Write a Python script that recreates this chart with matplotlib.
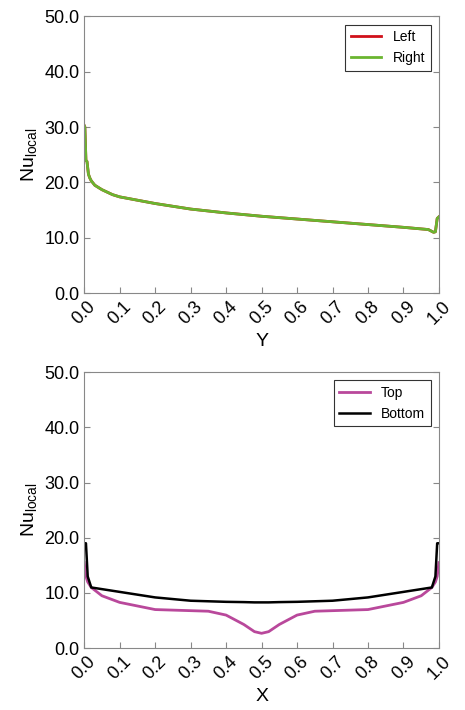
import matplotlib.pyplot as plt

plt.rcParams['font.family'] = ['Liberation Sans', 'DejaVu Sans']
plt.rcParams['mathtext.fontset'] = 'custom'
plt.rcParams['mathtext.rm'] = 'Liberation Sans'

# Top panel: left / right walls
y_pos = [0.0, 0.002, 0.005, 0.008, 0.012, 0.016, 0.02, 0.03, 0.05, 0.08, 0.1, 0.2, 0.3, 0.4, 0.5,
         0.6, 0.7, 0.8, 0.9, 0.97, 0.985, 0.99, 0.995, 1.0]
nu_left = [30.3, 30.0, 24.0, 23.8, 21.5, 20.8, 20.3, 19.5, 18.7, 17.8, 17.4, 16.2, 15.2, 14.5, 13.9,
           13.4, 12.9, 12.4, 11.9, 11.5, 11.0, 11.1, 13.5, 13.8]
nu_right = nu_left

# Bottom panel: top / bottom walls
x_pos = [0.0, 0.005, 0.01, 0.02, 0.05, 0.1, 0.2, 0.3, 0.35, 0.4, 0.45, 0.48, 0.5,
         0.52, 0.55, 0.6, 0.65, 0.7, 0.8, 0.9, 0.95, 0.98, 0.99, 0.995, 1.0]
nu_top = [15.5, 13.0, 12.0, 11.0, 9.5, 8.3, 7.0, 6.8, 6.7, 6.0, 4.3, 3.0, 2.7,
          3.0, 4.3, 6.0, 6.7, 6.8, 7.0, 8.3, 9.5, 11.0, 12.0, 13.0, 15.5]
nu_bottom = [19.0, 19.0, 13.0, 11.0, 10.7, 10.2, 9.2, 8.6, 8.5, 8.4, 8.35, 8.3, 8.3,
             8.3, 8.35, 8.4, 8.5, 8.6, 9.2, 10.2, 10.7, 11.0, 13.0, 19.0, 19.0]

ticks_x = [i / 10 for i in range(11)]
ticks_y = [0, 10, 20, 30, 40, 50]

fig = plt.figure(figsize=(4.65, 7.1), dpi=100)
ax1 = fig.add_axes([0.181, 0.587, 0.763, 0.39])
ax2 = fig.add_axes([0.181, 0.087, 0.763, 0.389])

ax1.plot(y_pos, nu_left, color='#d0101a', lw=2, label='Left')
ax1.plot(y_pos, nu_right, color='#6ab530', lw=2, label='Right')
ax2.plot(x_pos, nu_top, color='#b9489b', lw=2, label='Top')
ax2.plot(x_pos, nu_bottom, color='black', lw=1.8, label='Bottom')

for ax, xl in [(ax1, 'Y'), (ax2, 'X')]:
    ax.set_xlim(0, 1)
    ax.set_ylim(0, 50)
    ax.set_xticks(ticks_x)
    ax.set_xticklabels([f'{t:.1f}' for t in ticks_x], rotation=45, fontsize=13)
    ax.set_yticks(ticks_y)
    ax.set_yticklabels([f'{t:.1f}' for t in ticks_y], fontsize=13)
    ax.tick_params(direction='in', right=True, length=4, color='#888888')
    for s in ax.spines.values():
        s.set_color('#888888')
    ax.set_xlabel(xl, fontsize=14)
    ax.set_ylabel(r'$\mathregular{Nu_{local}}$', fontsize=14)
    leg = ax.legend(loc='upper right', fontsize=10, fancybox=False, edgecolor='black',
                    handlelength=2.2, borderaxespad=0.6)
    leg.get_frame().set_linewidth(0.8)

fig.savefig('out.png')
